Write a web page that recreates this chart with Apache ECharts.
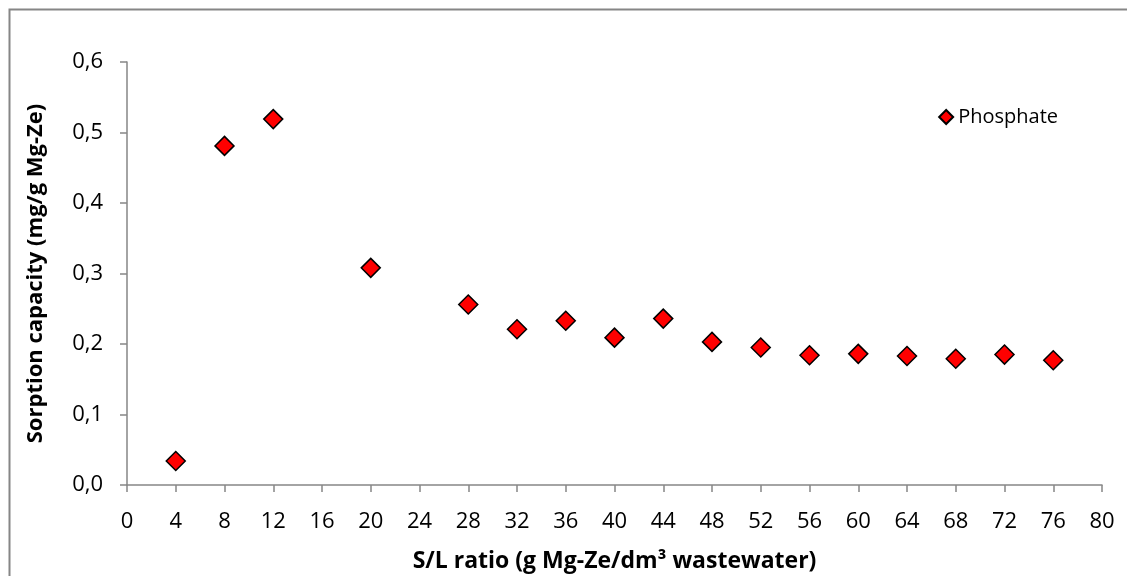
<!DOCTYPE html>
<html>
<head>
<meta charset="utf-8">
<script src="https://cdn.jsdelivr.net/npm/echarts@6/dist/echarts.min.js"></script>
<style>
html,body{margin:0;padding:0;background:#fff;}
#chart{width:1127px;height:576px;}
</style>
</head>
<body>
<div id="chart"></div>
<script>
var seriesName = 'Phosphate';
var xValues = [4, 8, 12, 20, 28, 32, 36, 40, 44, 48, 52, 56, 60, 64, 68, 72, 76];
var yValues = [0.034, 0.481, 0.519, 0.308, 0.256, 0.221, 0.233, 0.209, 0.236, 0.203, 0.195, 0.184, 0.186, 0.183, 0.179, 0.185, 0.177];
var xTitle = 'S/L ratio (g Mg-Ze/dm³ wastewater)';
var yTitle = 'Sorption capacity (mg/g Mg-Ze)';

var FONT = '"Open Sans", sans-serif';
var chart = echarts.init(document.getElementById('chart'), null, {renderer: 'canvas'});
var data = xValues.map(function (x, i) { return [x, yValues[i]]; });

chart.setOption({
  animation: false,
  backgroundColor: '#fff',
  graphic: [{
    type: 'rect', silent: true,
    shape: {x: 9.5, y: 9.5, width: 1140, height: 600},
    style: {fill: 'none', stroke: '#868686', lineWidth: 2}
  }],
  grid: {left: 127, right: 25, top: 62, bottom: 91, containLabel: false, outerBoundsMode: 'none'},
  legend: {
    data: [seriesName],
    right: 64, top: 102,
    itemWidth: 14, itemHeight: 14, itemGap: 4,
    textStyle: {fontFamily: FONT, fontSize: 20, color: '#000'}
  },
  xAxis: {
    type: 'value', min: 0, max: 80, interval: 4,
    name: xTitle, nameLocation: 'middle', nameGap: 65,
    nameTextStyle: {fontFamily: FONT, fontSize: 23, fontWeight: 'bold', color: '#000'},
    axisLine: {show: true, lineStyle: {color: '#868686', width: 1.5}},
    axisTick: {show: true, inside: false, length: 7, lineStyle: {color: '#868686', width: 1.5}},
    axisLabel: {fontFamily: FONT, fontSize: 22, color: '#000', margin: 26},
    splitLine: {show: false}
  },
  yAxis: {
    type: 'value', min: 0, max: 0.6, interval: 0.1,
    name: yTitle, nameLocation: 'middle', nameGap: 80, nameRotate: 90,
    nameTextStyle: {fontFamily: FONT, fontSize: 22, fontWeight: 'bold', color: '#000'},
    axisLine: {show: true, lineStyle: {color: '#868686', width: 1.5}},
    axisTick: {show: true, inside: false, length: 7, lineStyle: {color: '#868686', width: 1.5}},
    axisLabel: {
      fontFamily: FONT, fontSize: 22, color: '#000', margin: 24,
      formatter: function (v) { return v.toFixed(1).replace('.', ','); }
    },
    splitLine: {show: false}
  },
  series: [{
    name: seriesName,
    type: 'scatter',
    symbol: 'diamond',
    symbolSize: 19,
    itemStyle: {color: '#ff0000', borderColor: '#000', borderWidth: 1.5, opacity: 1},
    data: data
  }]
});
</script>
</body>
</html>
